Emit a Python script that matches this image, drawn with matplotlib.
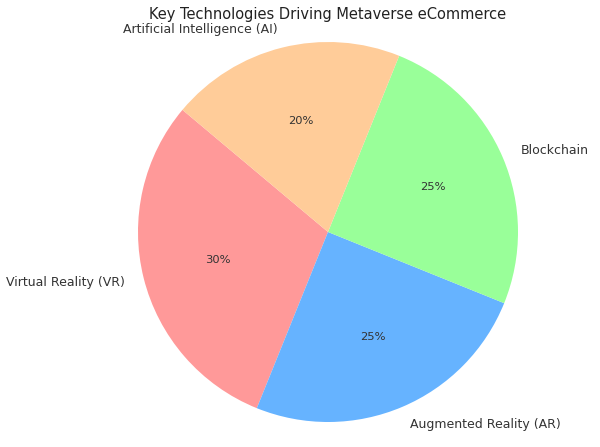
import matplotlib
matplotlib.use("Agg")
import matplotlib.pyplot as plt

labels = ["Virtual Reality (VR)", "Augmented Reality (AR)", "Blockchain", "Artificial Intelligence (AI)"]
shares = [30, 25, 25, 20]
colors = ["#ff9999", "#66b3ff", "#99ff99", "#ffcc99"]

fig = plt.figure(figsize=(8, 5.96), dpi=75)
ax = fig.add_axes([138 / 600, 25 / 447, 380 / 600, 380 / 447])

wedges, texts, autotexts = ax.pie(shares, labels=labels, colors=colors,
                                  autopct="%1.0f%%", startangle=140,
                                  textprops={"fontsize": 12, "color": "#333333"})
for t in autotexts:
    t.set_fontsize(11)
ax.set_xlim(-1, 1)
ax.set_ylim(-1, 1)
ax.set_aspect("equal")

fig.text(328 / 600, 1 - 15 / 447, "Key Technologies Driving Metaverse eCommerce",
         ha="center", va="center", fontsize=14, color="#222222")

fig.savefig("out.png", dpi=75)
